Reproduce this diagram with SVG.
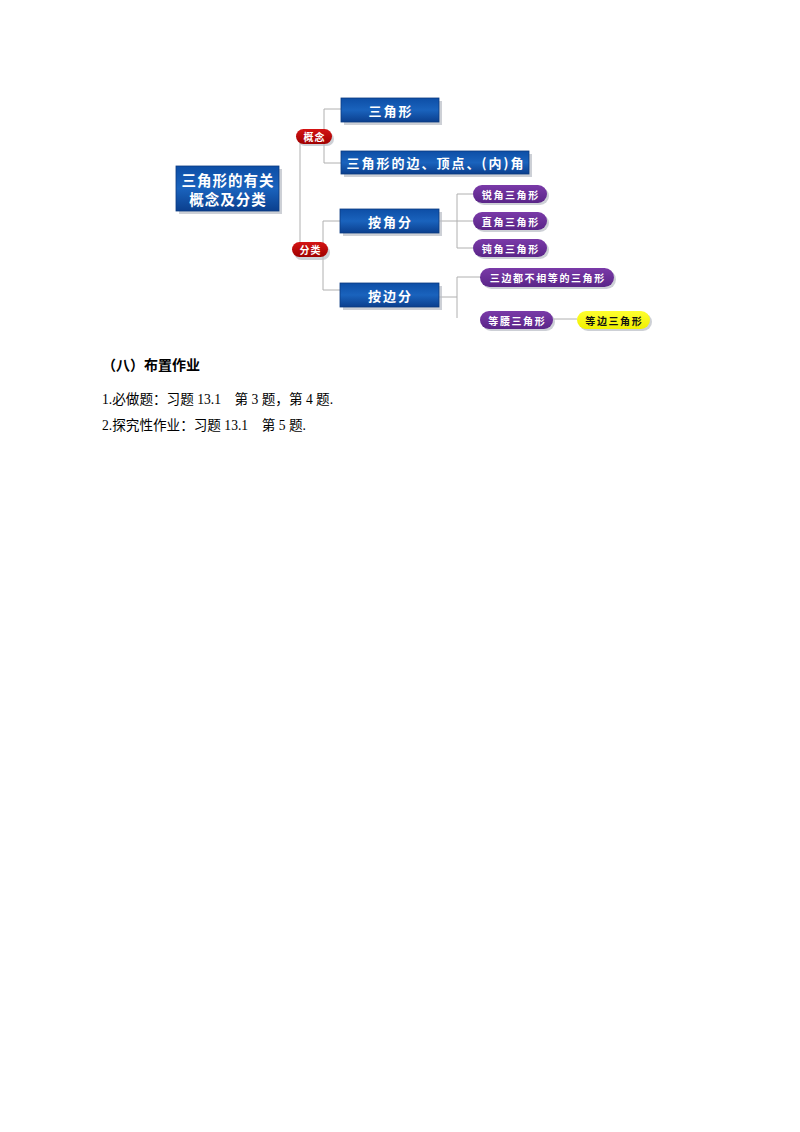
<svg xmlns="http://www.w3.org/2000/svg" width="800" height="1132" viewBox="0 0 800 1132">
<defs>
<linearGradient id="gBlue" x1="0" y1="0" x2="0" y2="1">
<stop offset="0" stop-color="#0d4ea6"/>
<stop offset="0.5" stop-color="#1a63bd"/>
<stop offset="1" stop-color="#0b3f8e"/>
</linearGradient>
<linearGradient id="gPurple" x1="0" y1="0" x2="0" y2="1">
<stop offset="0" stop-color="#7a3aa8"/>
<stop offset="1" stop-color="#5a2588"/>
</linearGradient>
<linearGradient id="gRed" x1="0" y1="0" x2="0" y2="1">
<stop offset="0" stop-color="#d41414"/>
<stop offset="1" stop-color="#a00000"/>
</linearGradient>
<linearGradient id="gYellow" x1="0" y1="0" x2="0" y2="1">
<stop offset="0" stop-color="#ffff30"/>
<stop offset="1" stop-color="#f0f000"/>
</linearGradient>
</defs>
<style>
.box{fill:url(#gBlue);stroke:#0a3a80;stroke-width:0.8}
.pp{fill:url(#gPurple)}
.rp{fill:url(#gRed)}
.yp{fill:url(#gYellow)}
.sh{fill:#b8bcc4;opacity:0.7}
.wt{fill:#ffffff;font-family:"Noto Sans CJK SC","Noto Sans CJK JP",sans-serif;font-weight:bold;text-anchor:middle;dominant-baseline:central}
.bt{fill:#111111;font-family:"Noto Sans CJK SC","Noto Sans CJK JP",sans-serif;font-weight:bold;text-anchor:middle;dominant-baseline:central}
.b13{font-size:13px;letter-spacing:2px}
.p10{font-size:10px;letter-spacing:1.6px}
.ln{fill:none;stroke:#b0b0b0;stroke-width:1}
.body{font-family:"Liberation Serif","Noto Sans CJK SC",serif;font-size:13.6px;fill:#000}
.head{font-family:"Noto Sans CJK SC",sans-serif;font-size:14px;font-weight:bold;fill:#000}
</style>
<rect width="800" height="1132" fill="#ffffff"/>
<g id="connectors">
<path class="ln" d="M300 143 V242"/>
<path class="ln" d="M332 136 H324 M324 109 V163 M324 109 H341 M324 163 H341"/>
<path class="ln" d="M328 249 H323 M323 221 V290 M323 221 H340 M323 290 H340"/>
<path class="ln" d="M439 221 H457 M457 194 V248 M457 194 H473 M457 221 H473 M457 248 H473"/>
<path class="ln" d="M439 297 H457 M457 277 V318 M457 277 H480"/>
<path class="ln" d="M553 319 H577"/>
</g>
<g id="node-main">
<rect class="sh" x="179" y="169" width="103" height="45"/>
<rect class="box" x="176" y="166" width="103" height="45"/>
<text class="wt" x="228" y="179" font-size="14.5" letter-spacing="1">三角形的有关</text>
<text class="wt" x="228" y="198" font-size="14.5" letter-spacing="1">概念及分类</text>
</g>
<g id="node-gainian">
<rect class="sh" x="298" y="132" width="36" height="14" rx="7"/>
<rect class="rp" x="296" y="129" width="36" height="15" rx="7.5"/>
<text class="wt" x="314.5" y="136.5" font-size="10" letter-spacing="1">概念</text>
</g>
<g id="node-sanjiaoxing">
<rect class="sh" x="344" y="101" width="98" height="24"/>
<rect class="box" x="341" y="98" width="98" height="24"/>
<text class="wt b13" x="391" y="110">三角形</text>
</g>
<g id="node-bian">
<rect class="sh" x="344" y="154" width="188" height="23"/>
<rect class="box" x="341" y="151" width="188" height="23"/>
<text class="wt b13" x="436" y="162.5">三角形的边、顶点、(内)角</text>
</g>
<g id="node-fenlei">
<rect class="sh" x="294" y="245" width="36" height="15" rx="7.5"/>
<rect class="rp" x="292" y="242" width="36" height="15" rx="7.5"/>
<text class="wt" x="310.5" y="249.5" font-size="10" letter-spacing="1">分类</text>
</g>
<g id="node-anjiao">
<rect class="sh" x="343" y="212" width="99" height="24"/>
<rect class="box" x="340" y="209" width="99" height="24"/>
<text class="wt b13" x="390.5" y="221">按角分</text>
</g>
<g id="node-anbian">
<rect class="sh" x="343" y="286" width="99" height="24"/>
<rect class="box" x="340" y="283" width="99" height="24"/>
<text class="wt b13" x="390.5" y="295">按边分</text>
</g>
<g id="node-ruijiao">
<rect class="sh" x="475" y="187" width="74" height="18" rx="9"/>
<rect class="pp" x="473" y="185" width="74" height="18" rx="9"/>
<text class="wt p10" x="510.8" y="194">锐角三角形</text>
</g>
<g id="node-zhijiao">
<rect class="sh" x="475" y="214" width="74" height="18" rx="9"/>
<rect class="pp" x="473" y="212" width="74" height="18" rx="9"/>
<text class="wt p10" x="510.8" y="221">直角三角形</text>
</g>
<g id="node-dunjiao">
<rect class="sh" x="475" y="241" width="74" height="18" rx="9"/>
<rect class="pp" x="473" y="239" width="74" height="18" rx="9"/>
<text class="wt p10" x="510.8" y="248">钝角三角形</text>
</g>
<g id="node-buxiangdeng">
<rect class="sh" x="482" y="270" width="134" height="19" rx="9.5"/>
<rect class="pp" x="480" y="268" width="134" height="19" rx="9.5"/>
<text class="wt p10" x="547.8" y="277.5">三边都不相等的三角形</text>
</g>
<g id="node-dengyao">
<rect class="sh" x="482" y="313" width="73" height="18" rx="9"/>
<rect class="pp" x="480" y="311" width="73" height="18" rx="9"/>
<text class="wt p10" x="517.3" y="320">等腰三角形</text>
</g>
<g id="node-dengbian">
<rect class="sh" x="579" y="313" width="73" height="18" rx="9"/>
<rect class="yp" x="577" y="311" width="73" height="18" rx="9"/>
<text class="bt p10" x="614.3" y="320">等边三角形</text>
</g>
<g id="text-body">
<text class="head" x="102" y="370">（八）布置作业</text>
<text class="body" x="102" y="404">1.必做题：习题 13.1　第 3 题，第 4 题.</text>
<text class="body" x="102" y="430">2.探究性作业：习题 13.1　第 5 题.</text>
</g>
</svg>
